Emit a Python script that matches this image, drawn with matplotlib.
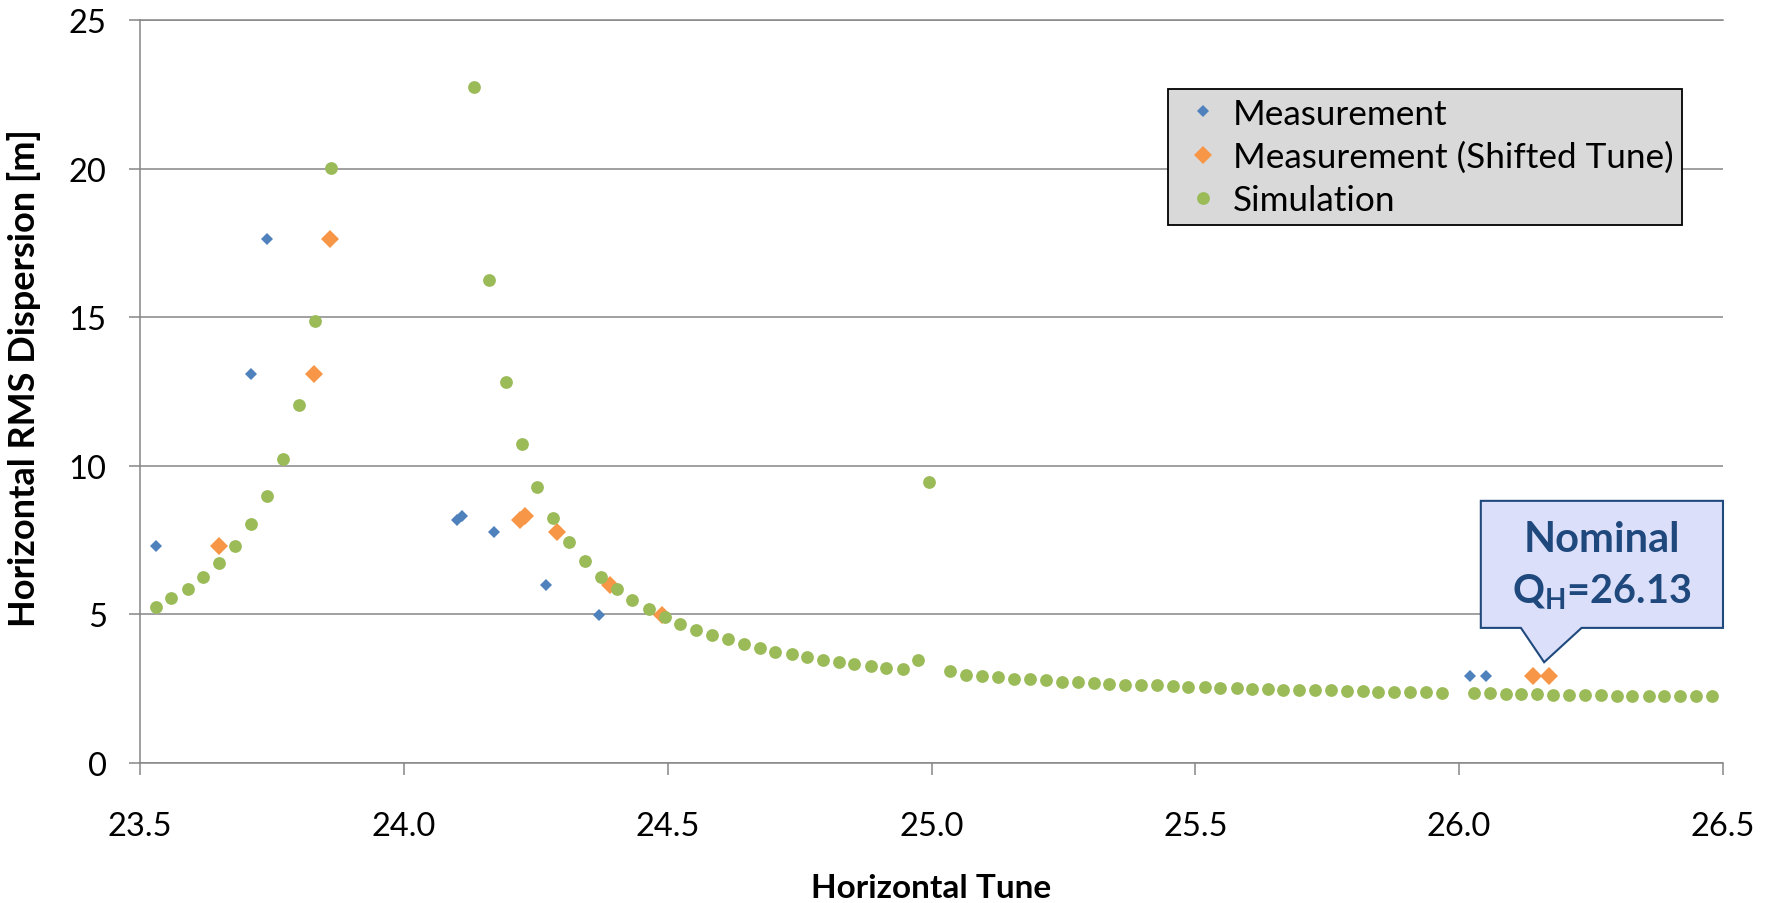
import matplotlib
matplotlib.use("Agg")
import matplotlib.pyplot as plt
from matplotlib.patches import Polygon

plt.rcParams['font.family'] = ['Lato', 'DejaVu Sans']
plt.rcParams['mathtext.fontset'] = 'custom'
plt.rcParams['mathtext.rm'] = 'Lato'
plt.rcParams['mathtext.bf'] = 'Lato:bold'

# Measured RMS dispersion vs. horizontal tune
meas_tune = [23.53, 23.71, 23.74, 24.10, 24.11, 24.17, 24.27, 24.37, 26.02, 26.05]
meas_disp = [7.30, 13.09, 17.64, 8.18, 8.31, 7.78, 6.00, 4.99, 2.93, 2.93]

# Same measurement with the tune shifted
shift_tune = [23.65, 23.83, 23.86, 24.22, 24.23, 24.29, 24.39, 24.49, 26.14, 26.17]
shift_disp = [7.30, 13.09, 17.64, 8.18, 8.31, 7.78, 6.00, 4.99, 2.93, 2.93]

# Simulated RMS dispersion
sim_tune = [23.530, 23.559, 23.591, 23.620, 23.650, 23.680, 23.711, 23.741, 23.771, 23.801,
            23.832, 23.862,
            24.133, 24.162, 24.193, 24.223, 24.253, 24.283, 24.312, 24.343, 24.373, 24.403,
            24.433, 24.464, 24.494, 24.524, 24.554, 24.584, 24.614, 24.645, 24.674, 24.704,
            24.735, 24.764, 24.794, 24.825, 24.854, 24.885, 24.914, 24.945, 24.975, 24.995,
            25.035, 25.065, 25.096, 25.126, 25.156, 25.186, 25.216, 25.247, 25.277, 25.307,
            25.337, 25.367, 25.397, 25.427, 25.458, 25.487, 25.518, 25.547, 25.578, 25.607,
            25.637, 25.667, 25.697, 25.727, 25.757, 25.787, 25.817, 25.847, 25.877, 25.907,
            25.937, 25.967,
            26.029, 26.059, 26.088, 26.118, 26.148, 26.178, 26.208, 26.239, 26.268, 26.299,
            26.328, 26.359, 26.388, 26.419, 26.449, 26.479]
sim_disp = [5.26, 5.55, 5.87, 6.26, 6.73, 7.31, 8.03, 8.98, 10.24, 12.03,
            14.87, 20.03,
            22.76, 16.24, 12.81, 10.73, 9.29, 8.24, 7.43, 6.78, 6.26, 5.86,
            5.48, 5.18, 4.91, 4.67, 4.48, 4.30, 4.16, 4.01, 3.87, 3.75,
            3.66, 3.56, 3.47, 3.39, 3.33, 3.27, 3.21, 3.17, 3.48, 9.44,
            3.08, 2.96, 2.91, 2.88, 2.84, 2.81, 2.78, 2.74, 2.72, 2.69,
            2.66, 2.64, 2.63, 2.61, 2.58, 2.56, 2.55, 2.53, 2.52, 2.50,
            2.49, 2.47, 2.46, 2.45, 2.44, 2.43, 2.42, 2.40, 2.39, 2.38,
            2.38, 2.37,
            2.35, 2.34, 2.33, 2.32, 2.31, 2.30, 2.29, 2.28, 2.28, 2.27,
            2.26, 2.26, 2.25, 2.25, 2.24, 2.24]

x_ticks = [23.5, 24.0, 24.5, 25.0, 25.5, 26.0, 26.5]
y_ticks = [0, 5, 10, 15, 20, 25]

GRID = '#868686'
BLUE = '#4F81BD'
ORANGE = '#F79646'
GREEN = '#9BBB59'
NAVY = '#1F497D'

fig = plt.figure(figsize=(17.73, 9.04), dpi=100)
ax = fig.add_axes([0.0790, 0.1549, 0.8928, 0.8219])

ax.plot(meas_tune, meas_disp, linestyle='none', marker='D', ms=6.0, mew=0,
        color=BLUE, label='Measurement', zorder=3)
ax.plot(shift_tune, shift_disp, linestyle='none', marker='D', ms=9.5, mew=0,
        color=ORANGE, label='Measurement (Shifted Tune)', zorder=4)
ax.plot(sim_tune, sim_disp, linestyle='none', marker='o', ms=9.2, mew=0,
        color=GREEN, label='Simulation', zorder=5)

ax.set_xlim(23.5, 26.5)
ax.set_ylim(0, 25)
ax.set_xticks(x_ticks)
ax.set_xticklabels([f'{v:.1f}' for v in x_ticks])
ax.set_yticks(y_ticks)
ax.set_yticklabels([str(v) for v in y_ticks])

ax.grid(axis='y', color=GRID, linewidth=1.1, zorder=0)
ax.set_axisbelow(True)
ax.spines['right'].set_visible(False)
for side in ('left', 'bottom', 'top'):
    ax.spines[side].set_color(GRID)
    ax.spines[side].set_linewidth(1.1)

ax.tick_params(axis='x', direction='out', length=8.5, width=1.1, color=GRID,
               labelsize=23.5, pad=26)
ax.tick_params(axis='y', direction='out', length=8, width=1.1, color=GRID,
               labelsize=23.5, pad=16)

ax.set_xlabel('Horizontal Tune', fontsize=24, fontweight='bold', va='center')
ax.xaxis.set_label_coords(0.5, -0.1676)
ax.set_ylabel('Horizontal RMS Dispersion [m]', fontsize=26, fontweight='bold')
ax.yaxis.set_label_coords(-0.0628, 0.52)

leg = ax.legend(loc='upper left', bbox_to_anchor=(1168 / 1773, 1 - 90 / 904),
                bbox_transform=fig.transFigure, fontsize=25.3, frameon=True,
                fancybox=False, framealpha=1, facecolor='#D9D9D9', edgecolor='black',
                borderpad=0.25, handlelength=1.5, handletextpad=0.1, labelspacing=0.31,
                borderaxespad=0)
leg.get_frame().set_linewidth(1.3)
leg.set_zorder(10)

# Callout marking the nominal working point
callout = Polygon([(26.041, 8.82), (26.500, 8.82), (26.500, 4.545), (26.232, 4.545),
                   (26.161, 3.39), (26.117, 4.545), (26.041, 4.545)],
                  closed=True, facecolor='#DBDFFA', edgecolor=NAVY, linewidth=1.5,
                  zorder=8, clip_on=False)
ax.add_patch(callout)
ax.text(26.2705, 7.52, 'Nominal', ha='center', va='center', fontsize=30,
        fontweight='bold', color=NAVY, zorder=9)
ax.text(26.2705, 5.40, r'Q$_\mathbf{H}$=26.13', ha='center', va='baseline', fontsize=28.5,
        fontweight='bold', color=NAVY, zorder=9)

fig.savefig('out.png', dpi=100)
